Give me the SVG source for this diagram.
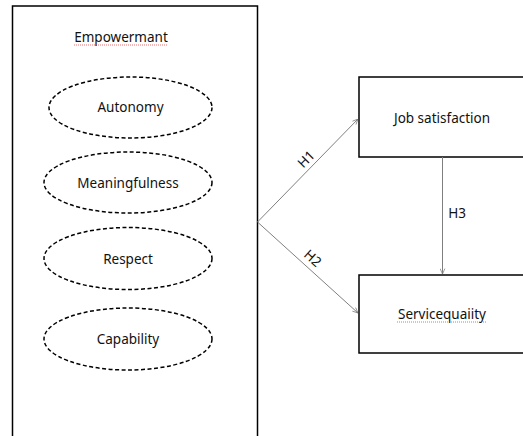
<svg xmlns="http://www.w3.org/2000/svg" width="523" height="436" viewBox="0 0 523 436">
<style>
.box{fill:#fff;stroke:#000;stroke-width:1.5}
.ell{fill:#fff;stroke:#000;stroke-width:1.5;stroke-dasharray:4 2.5}
.t{font-family:"Noto Sans","Open Sans",sans-serif;font-size:13.5px;fill:#111}
.c{stroke:#808080;stroke-width:1;fill:none}
.sq{stroke:#e03030;stroke-width:0.7;fill:none;stroke-dasharray:1 1}
</style>
<defs>
<marker id="arr" viewBox="0 0 10 10" refX="10" refY="5" markerWidth="6" markerHeight="6" orient="auto" markerUnits="userSpaceOnUse">
<path d="M1,1 L10,5 L1,9" fill="none" stroke="#808080" stroke-width="1.3"/>
</marker>
</defs>
<rect width="523" height="436" fill="#fff"/>
<g id="empowermant">
<rect class="box" x="12.5" y="6" width="245" height="432"/>
<text class="t" x="121" y="42" text-anchor="middle">Empowermant</text>
<path class="sq" d="M74,45 H168"/>
</g>
<g id="autonomy">
<ellipse class="ell" cx="130.5" cy="107.5" rx="81.5" ry="30.5"/>
<text class="t" x="130.5" y="112" text-anchor="middle">Autonomy</text>
</g>
<g id="meaningfulness">
<ellipse class="ell" cx="128" cy="182.5" rx="84" ry="30.5"/>
<text class="t" x="128" y="188" text-anchor="middle">Meaningfulness</text>
</g>
<g id="respect">
<ellipse class="ell" cx="128" cy="258.5" rx="84" ry="31"/>
<text class="t" x="128" y="264" text-anchor="middle">Respect</text>
</g>
<g id="capability">
<ellipse class="ell" cx="128" cy="339" rx="84" ry="31"/>
<text class="t" x="128" y="344" text-anchor="middle">Capability</text>
</g>
<g id="job-satisfaction">
<rect class="box" x="359" y="77" width="170" height="80"/>
<text class="t" x="442" y="123" text-anchor="middle">Job satisfaction</text>
</g>
<g id="service-quality">
<rect class="box" x="359" y="275" width="170" height="78"/>
<text class="t" x="442" y="319" text-anchor="middle">Servicequaiity</text>
<path class="sq" d="M397,322 H487"/>
</g>
<g id="connectors">
<line class="c" x1="257.5" y1="222" x2="358" y2="119" marker-end="url(#arr)"/>
<line class="c" x1="257.5" y1="222" x2="358" y2="313" marker-end="url(#arr)"/>
<line class="c" x1="442.5" y1="157" x2="442.5" y2="274" marker-end="url(#arr)"/>
<text class="t" x="306" y="164" text-anchor="middle" transform="rotate(-45 306 159)">H1</text>
<text class="t" x="313" y="263" text-anchor="middle" transform="rotate(42 313 258)">H2</text>
<text class="t" x="457" y="218" text-anchor="middle">H3</text>
</g>
</svg>
